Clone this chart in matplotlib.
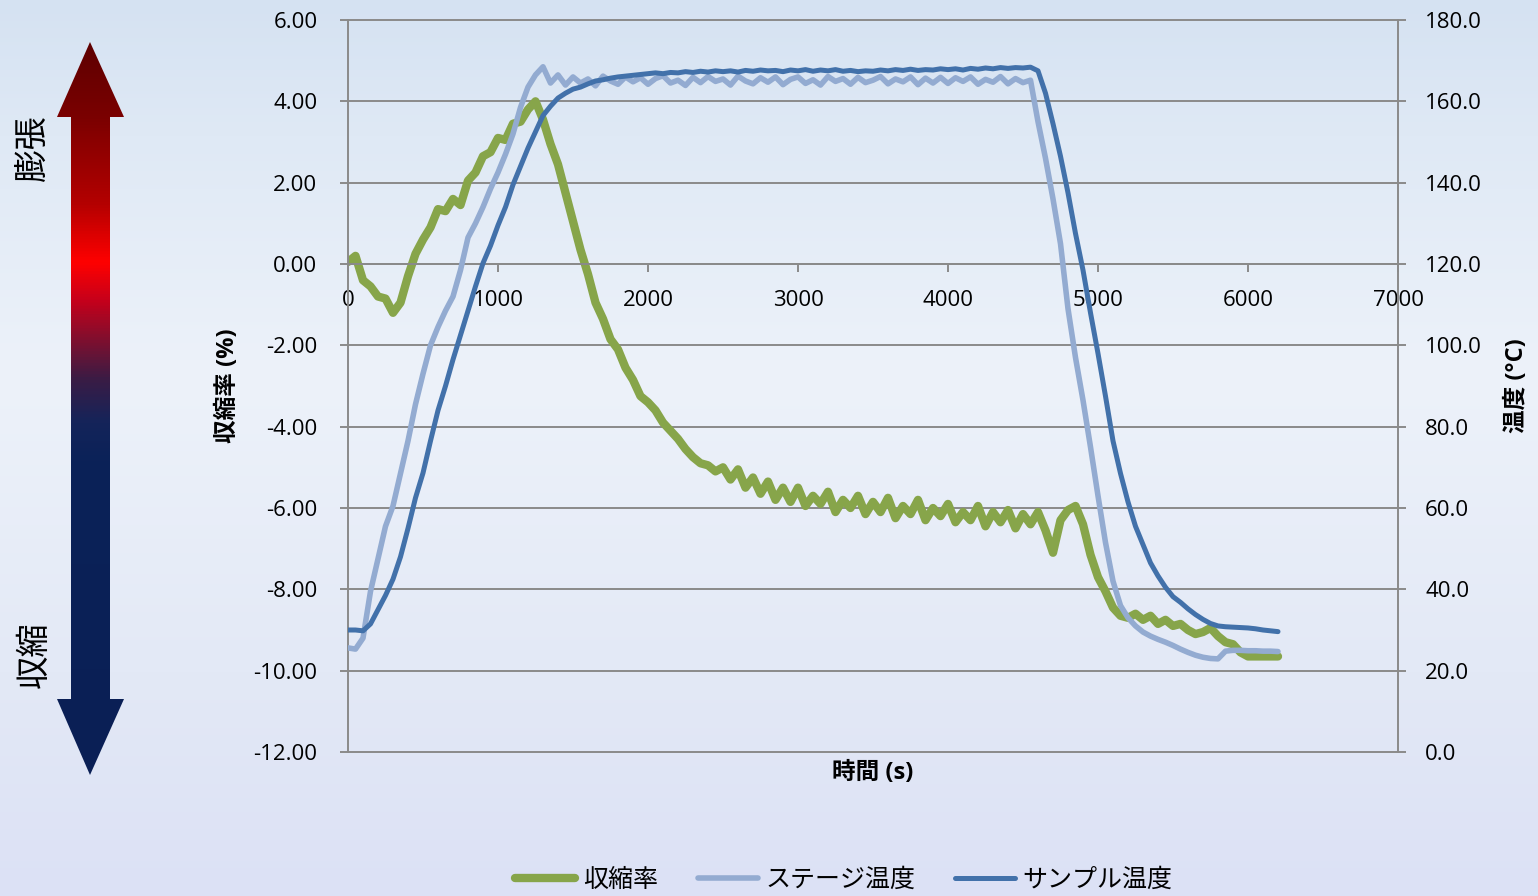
import numpy as np
import matplotlib
matplotlib.use("Agg")
import matplotlib.pyplot as plt
from matplotlib.colors import LinearSegmentedColormap
from matplotlib.patches import Polygon
from matplotlib.ticker import FormatStrFormatter

plt.rcParams['font.family'] = ['Open Sans', 'Noto Sans CJK JP', 'DejaVu Sans']

# 測定データ (50 s 間隔)
time_s = np.arange(0, 6201, 50)

shrinkage = [
    0.05, 0.20, -0.40, -0.55, -0.80, -0.85, -1.20, -0.95, -0.30, 0.25,
    0.60, 0.90, 1.35, 1.30, 1.60, 1.45, 2.05, 2.25, 2.65, 2.75,
    3.10, 3.05, 3.45, 3.50, 3.80, 4.00, 3.55, 2.95, 2.45, 1.75,
    1.05, 0.35, -0.25, -0.95, -1.35, -1.85, -2.10, -2.55, -2.85, -3.25,
    -3.40, -3.60, -3.90, -4.10, -4.30, -4.55, -4.75, -4.90, -4.95, -5.10,
    -5.00, -5.30, -5.05, -5.50, -5.25, -5.65, -5.35, -5.80, -5.50, -5.85,
    -5.50, -5.95, -5.70, -5.90, -5.60, -6.10, -5.80, -6.00, -5.70, -6.15,
    -5.85, -6.10, -5.75, -6.25, -5.95, -6.15, -5.80, -6.30, -6.00, -6.20,
    -5.90, -6.35, -6.10, -6.30, -5.95, -6.45, -6.10, -6.35, -6.05, -6.50,
    -6.15, -6.40, -6.10, -6.55, -7.10, -6.30, -6.05, -5.95, -6.40, -7.15,
    -7.70, -8.05, -8.45, -8.65, -8.70, -8.60, -8.75, -8.65, -8.85, -8.75,
    -8.90, -8.85, -9.00, -9.10, -9.05, -8.95, -9.15, -9.30, -9.35, -9.55,
    -9.65, -9.65, -9.65, -9.65, -9.65,
]

stage_temp = [
    25.6, 25.3, 28.0, 39.5, 47.5, 55.5, 60.5, 68.5, 76.5, 85.5,
    93.0, 100.0, 104.5, 108.5, 112.0, 118.5, 126.5, 130.0, 134.0, 138.5,
    142.5, 147.0, 152.0, 158.5, 163.5, 166.5, 168.5, 164.5, 166.5, 164.0,
    166.0, 164.5, 165.5, 163.8, 166.2, 165.0, 164.2, 166.0, 164.8, 165.8,
    164.2, 165.6, 166.3, 164.5, 165.2, 163.9, 165.9, 164.6, 166.1, 164.9,
    165.5, 164.0, 166.2, 165.0, 164.3, 165.8, 164.7, 166.0, 164.1, 165.4,
    166.0, 164.4, 165.3, 164.0, 166.1, 164.9, 165.6, 164.2, 165.9, 164.6,
    165.2, 166.1, 164.3, 165.5, 164.8, 166.0, 164.1, 165.7, 164.5, 165.9,
    164.4, 165.8, 164.9, 166.0, 164.2, 165.4, 164.7, 166.1, 164.3, 165.6,
    164.6, 165.2, 155.0, 146.0, 136.0, 125.0, 109.0, 97.0, 86.5, 75.0,
    63.0, 51.5, 42.0, 36.0, 33.0, 31.0, 29.5, 28.5, 27.7, 27.0,
    26.2, 25.3, 24.5, 23.8, 23.3, 23.0, 22.9, 24.8, 25.0, 25.0,
    24.9, 24.9, 24.8, 24.8, 24.7,
]

sample_temp = [
    30.0, 30.0, 29.8, 31.5, 35.0, 38.5, 42.5, 48.0, 55.0, 62.5,
    68.6, 76.5, 84.0, 90.0, 96.5, 102.5, 108.5, 114.5, 120.2, 124.5,
    129.5, 134.0, 139.5, 144.0, 148.5, 152.5, 156.5, 158.8, 160.8, 162.0,
    163.0, 163.5, 164.3, 165.0, 165.3, 165.7, 166.0, 166.2, 166.4, 166.6,
    166.8, 167.0, 166.8, 167.1, 167.0, 167.3, 167.1, 167.4, 167.2, 167.5,
    167.3, 167.5, 167.2, 167.6, 167.4, 167.7, 167.5, 167.6, 167.3, 167.7,
    167.5, 167.8, 167.4, 167.7, 167.5, 167.8, 167.4, 167.6, 167.3, 167.5,
    167.4, 167.7, 167.5, 167.8, 167.6, 167.9, 167.6, 167.8, 167.7, 168.0,
    167.8, 168.0, 167.7, 168.1, 167.9, 168.2, 168.0, 168.3, 168.1, 168.3,
    168.2, 168.4, 167.5, 162.0, 154.5, 146.5, 137.5, 127.5, 118.5, 108.0,
    98.0, 87.5, 76.5, 68.5, 61.5, 55.5, 51.0, 46.5, 43.3, 40.5,
    38.2, 36.8, 35.2, 33.8, 32.6, 31.6, 31.0, 30.8, 30.7, 30.6,
    30.5, 30.3, 30.0, 29.8, 29.6,
]

x_ticks = np.arange(0, 7001, 1000)
y_left_ticks = np.arange(-12, 7, 2)
y_right_ticks = np.arange(0, 181, 20)

series_labels = ["収縮率", "ステージ温度", "サンプル温度"]
series_colors = ["#87a54a", "#93abd1", "#4271aa"]
gray = "#8a8a8a"

W, H = 1538, 896
fig = plt.figure(figsize=(W / 100, H / 100), dpi=100)

# ---- 背景グラデーションと膨張/収縮の矢印 ----
bg = fig.add_axes([0, 0, 1, 1], zorder=-10)
bg_cmap = LinearSegmentedColormap.from_list(
    "bg", [(0.0, "#d5e2f2"), (0.15, "#dfe9f5"), (0.42, "#edf2fa"),
           (0.75, "#e3e9f6"), (1.0, "#dce1f5")])
bg.imshow(np.linspace(0, 1, 256)[:, None], cmap=bg_cmap,
          extent=(0, W, H, 0), aspect="auto")

arrow_xy = [(90, 42), (124, 117), (110, 117), (110, 699), (124, 699),
            (90, 775), (57, 699), (71, 699), (71, 117), (57, 117)]
arrow = Polygon(arrow_xy, closed=True, facecolor="none", edgecolor="none")
bg.add_patch(arrow)
arrow_cmap = LinearSegmentedColormap.from_list(
    "arrow", [(0.0, "#5e0000"), (0.10, "#7a0000"), (0.22, "#b40000"),
              (0.30, "#ff0000"), (0.35, "#c8001a"), (0.41, "#7a1030"),
              (0.46, "#3a1c45"), (0.52, "#14245a"), (0.57, "#0b2258"),
              (1.0, "#0a1f55")])
img = bg.imshow(np.linspace(0, 1, 512)[:, None], cmap=arrow_cmap,
                extent=(57, 124, 775, 42), aspect="auto")
img.set_clip_path(arrow)

bg.text(33, 148, "膨張", rotation=90, ha="center", va="center", fontsize=24)
bg.text(35, 655, "収縮", rotation=90, ha="center", va="center", fontsize=24)
bg.set_xlim(0, W)
bg.set_ylim(H, 0)
bg.axis("off")

# ---- 収縮率 (左軸) ----
ax = fig.add_axes([348 / W, (H - 752) / H, 1050 / W, 732 / H])
ax.patch.set_alpha(0)
ax.hlines(y_left_ticks, 0, 7000, colors=gray, lw=1.4, clip_on=False, zorder=0.5)
l1, = ax.plot(time_s, shrinkage, color=series_colors[0], lw=6.0,
              solid_joinstyle="round", solid_capstyle="round")
ax.set_xlim(0, 7000)
ax.set_ylim(-12, 6)
ax.set_xticks(x_ticks)
ax.set_yticks(y_left_ticks)
ax.yaxis.set_major_formatter(FormatStrFormatter("%.2f"))
ax.spines["top"].set_visible(False)
ax.spines["right"].set_visible(False)
ax.spines["bottom"].set_position(("data", 0))
for s in ("left", "bottom"):
    ax.spines[s].set_color(gray)
    ax.spines[s].set_linewidth(1.4)
ax.tick_params(axis="y", length=6, width=1.4, color=gray, pad=16, labelsize=16)
ax.tick_params(axis="x", length=6, width=1.4, color=gray, pad=13, labelsize=16)
ax.set_xlabel("時間 (s)", fontsize=17, fontweight="bold")
ax.xaxis.set_label_coords(0.5, -0.012)
ax.set_ylabel("収縮率 (%)", fontsize=17, fontweight="bold")
ax.yaxis.set_label_coords(-0.103, 0.5)

# ---- 温度 (右軸) ----
ax2 = ax.twinx()
l2, = ax2.plot(time_s, stage_temp, color=series_colors[1], lw=4.0,
               solid_joinstyle="round", solid_capstyle="round")
l3, = ax2.plot(time_s, sample_temp, color=series_colors[2], lw=3.6,
               solid_joinstyle="round", solid_capstyle="round")
ax2.set_ylim(0, 180)
ax2.set_yticks(y_right_ticks)
ax2.yaxis.set_major_formatter(FormatStrFormatter("%.1f"))
for s in ("top", "bottom", "left"):
    ax2.spines[s].set_visible(False)
ax2.spines["right"].set_color(gray)
ax2.spines["right"].set_linewidth(1.4)
ax2.tick_params(axis="y", length=6, width=1.4, color=gray, pad=13.5, labelsize=16)
ax2.set_ylabel("温度 (°C)", fontsize=17, fontweight="bold")
ax2.yaxis.set_label_coords(1.102, 0.5)

fig.legend([l1, l2, l3], series_labels, loc="center",
           bbox_to_anchor=(844 / W, 1 - 880 / H), ncol=3, frameon=False,
           fontsize=18, handlelength=2.4, handletextpad=0.3, columnspacing=1.6)

fig.savefig("out.png", dpi=100)
